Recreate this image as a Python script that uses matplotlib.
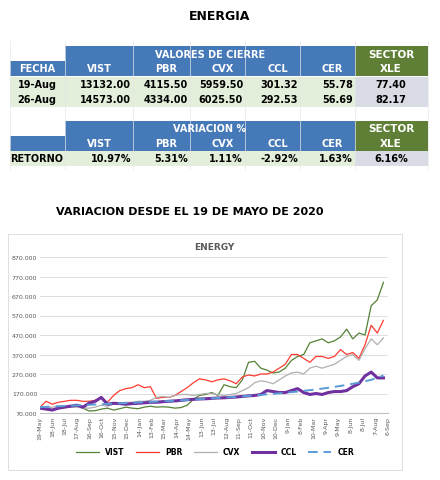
import matplotlib
matplotlib.use("Agg")
import matplotlib.pyplot as plt
import numpy as np
from matplotlib.patches import Rectangle

cols = ["VIST", "PBR", "CVX", "CCL", "CER"]
dates = ["19-Aug", "26-Aug"]
close_vals = [[13132.00, 4115.50, 5959.50, 301.32, 55.78],
              [14573.00, 4334.00, 6025.50, 292.53, 56.69]]
xle_vals = [77.40, 82.17]
ret_vals = [10.97, 5.31, 1.11, -2.92, 1.63]
xle_ret = 6.16

ticks = ["19-May","18-Jun","18-Jul","17-Aug","16-Sep","16-Oct","15-Nov","15-Dec","14-Jan","13-Feb",
         "15-Mar","14-Apr","14-May","13-Jun","13-Jul","12-Aug","11-Sep","11-Oct","10-Nov","10-Dec",
         "9-Jan","8-Feb","10-Mar","9-Apr","9-May","8-Jun","8-Jul","7-Aug","6-Sep"]
vist = [100,92,88,95,100,102,105,95,80,82,90,95,85,92,100,95,92,100,105,100,102,100,95,98,110,140,160,165,
        175,160,215,205,200,240,330,335,300,290,275,280,300,340,360,370,430,440,450,430,440,460,500,450,480,470,
        620,650,740]
pbr = [100,130,115,125,130,135,135,130,130,135,150,125,160,185,195,200,215,200,205,145,150,150,160,180,200,225,
       245,240,230,240,245,235,220,255,265,260,270,270,280,300,320,370,370,350,330,360,360,350,360,395,370,380,
       350,420,520,480,545]
cvx = [100,95,100,105,105,100,100,95,95,100,110,105,115,120,125,125,130,130,135,150,155,150,160,165,165,160,
       165,170,170,165,160,165,170,185,200,225,235,230,220,240,260,275,280,270,300,310,300,310,320,340,360,370,
       340,400,450,420,455]
ccl = [95,90,85,95,100,105,110,100,120,130,150,115,120,118,115,118,120,122,125,125,128,130,132,135,138,140,
       142,143,145,147,148,150,152,155,158,160,165,185,180,175,175,185,195,175,165,170,165,175,180,180,185,205,
       220,260,280,250,250]
cer = [100,103,106,109,112,115,118,121,124,127,130,133,137,141,145,149,153,158,163,168,174,180,187,195,204,
       214,226,240,262]

BLUE = "#4679B8"; GREEN = "#5F7F36"; LG = "#E3EFDA"; GR = "#D9DCE4"

fig = plt.figure(figsize=(4.4, 4.81), dpi=100)
bg = fig.add_axes([0, 0, 1, 1]); bg.set_xlim(0, 440); bg.set_ylim(481, 0); bg.axis("off")

def rect(x0, y0, x1, y1, c):
    bg.add_patch(Rectangle((x0, y0), x1 - x0, y1 - y0, color=c, lw=0))

def txt(x, y, s, ha="center", c="black", fs=7):
    bg.text(x, y, s, ha=ha, va="center", color=c, fontsize=fs, fontweight="bold")

bg.text(220, 16, "ENERGIA", ha="center", va="center", fontsize=9, fontweight="bold")
cx = [10, 65, 133, 190, 245, 300, 355, 428]
for gx in cx:
    bg.plot([gx, gx], [42, 170], color="#E6E6E6", lw=0.5)

def header(y0, title):
    rect(65, y0, 355, y0 + 15, BLUE); rect(10, y0 + 15, 355, y0 + 30, BLUE)
    rect(355, y0, 428, y0 + 30, GREEN)
    txt(210, y0 + 7.5, title, c="white")
    txt(391, y0 + 7.5, "SECTOR", c="white", fs=7.5)
    txt(391, y0 + 22.5, "XLE", c="white", fs=7.5)
    for i, cn in enumerate(cols):
        txt(cx[i + 1] + 22, y0 + 22.5, cn, ha="left", c="white")

header(47, "VALORES DE CIERRE")
txt(37, 69.5, "FECHA", c="white")
for r in range(2):
    y = 85 + 15 * r
    rect(10, y - 7.5, 355, y + 7.5, LG); rect(355, y - 7.5, 428, y + 7.5, GR)
    txt(37, y, dates[r])
    for i, v in enumerate(close_vals[r]):
        txt(cx[i + 2] - 2, y, f"{v:.2f}", ha="right")
    txt(391, y, f"{xle_vals[r]:.2f}")
header(122, "VARIACION %")
y = 159.5
rect(10, y - 7.5, 355, y + 7.5, LG); rect(355, y - 7.5, 428, y + 7.5, GR)
txt(37, y, "RETORNO")
for i, v in enumerate(ret_vals):
    txt(cx[i + 2] - 2, y, f"{v:.2f}%", ha="right")
txt(391, y, f"{xle_ret:.2f}%")

bg.text(190, 212, "VARIACION DESDE EL 19 DE MAYO DE 2020", ha="center", va="center", fontsize=8, fontweight="bold")
bg.add_patch(Rectangle((8, 235), 394, 236, fill=False, ec="#D9D9D9", lw=0.6))

ax = fig.add_axes([40/440, 1 - 414/481, 348/440, 156/481])
n = len(vist)
xs = np.linspace(0, 829, n)
xc = np.linspace(0, 829, len(cer))
ax.plot(xs, vist, color="#548235", lw=0.9, label="VIST")
ax.plot(xs, pbr, color="#FF3B30", lw=0.9, label="PBR")
ax.plot(xs, cvx, color="#B0B0B0", lw=0.9, label="CVX")
ax.plot(xs, ccl, color="#7030A0", lw=2.2, label="CCL")
ax.plot(xc, cer, color="#5B9BD5", lw=1.4, ls=(0, (5, 3)), label="CER")
ax.set_ylim(70, 870)
ax.set_yticks(np.arange(70, 871, 100))
ax.set_yticklabels([f"{v}.000" for v in range(70, 871, 100)], fontsize=4.5, color="#595959")
ax.set_xlim(0, 840)
ax.set_xticks(np.arange(len(ticks)) * 30)
ax.set_xticklabels(ticks, rotation=90, fontsize=4.5, color="#595959")
ax.grid(axis="y", color="#D9D9D9", lw=0.6)
ax.set_axisbelow(True)
for s in ["top", "right", "left"]:
    ax.spines[s].set_visible(False)
ax.spines["bottom"].set_color("#BFBFBF")
ax.tick_params(length=0, pad=2)
ax.text(0.5, 1.05, "ENERGY", transform=ax.transAxes, ha="center", fontsize=6.5, fontweight="bold", color="#595959")
fig.legend(loc="center", bbox_to_anchor=(215/440, 1 - 453/481), ncol=5, frameon=False, fontsize=5.5,
           handlelength=3, columnspacing=1.5, prop={"weight": "bold", "size": 5.5})
fig.savefig("out.png", dpi=100)
